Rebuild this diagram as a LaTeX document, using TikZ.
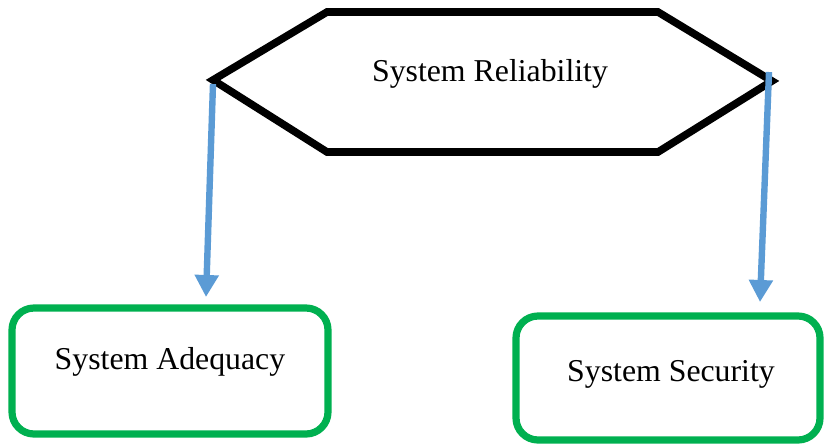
\documentclass[tikz,border=0pt]{standalone}
\usepackage{fontspec}
\setmainfont{Liberation Serif}
\usetikzlibrary{arrows.meta}
\definecolor{linkblue}{HTML}{5B9BD5}
\definecolor{boxgreen}{HTML}{00B050}
\begin{document}
\begin{tikzpicture}[x=0.5pt,y=-0.5pt,
  hexline/.style={draw=black,line width=3.8pt,line join=miter},
  leafbox/.style={draw=boxgreen,line width=3.6pt,rounded corners=11pt},
  label/.style={font=\fontsize{15.9pt}{18pt}\selectfont,inner sep=0pt},
  link/.style={draw=linkblue,line width=3.2pt,-{Triangle[width=11.5pt,length=11pt]}}]
\useasboundingbox (0,0) rectangle (824,445);
% hexagon outline
\draw[hexline] (213,80) -- (327,12) -- (658,12) -- (772,81) -- (658,152) -- (327,152) -- cycle;
\node[label] (rel) at (490,74) {System Reliability};
% leaf boxes
\draw[leafbox] (12,308) rectangle (328,434);
\node[label] (adq) at (170,362) {System Adequacy};
\draw[leafbox] (516,316) rectangle (820,440);
\node[label] (sec) at (671,374) {System Security};
% connectors
\coordinate (lstart) at (213,84);
\coordinate (lend) at (206,297);
\coordinate (rstart) at (769,72);
\coordinate (rend) at (760,302);
\draw[link] (lstart) -- (lend);
\draw[link] (rstart) -- (rend);
\end{tikzpicture}
\end{document}
